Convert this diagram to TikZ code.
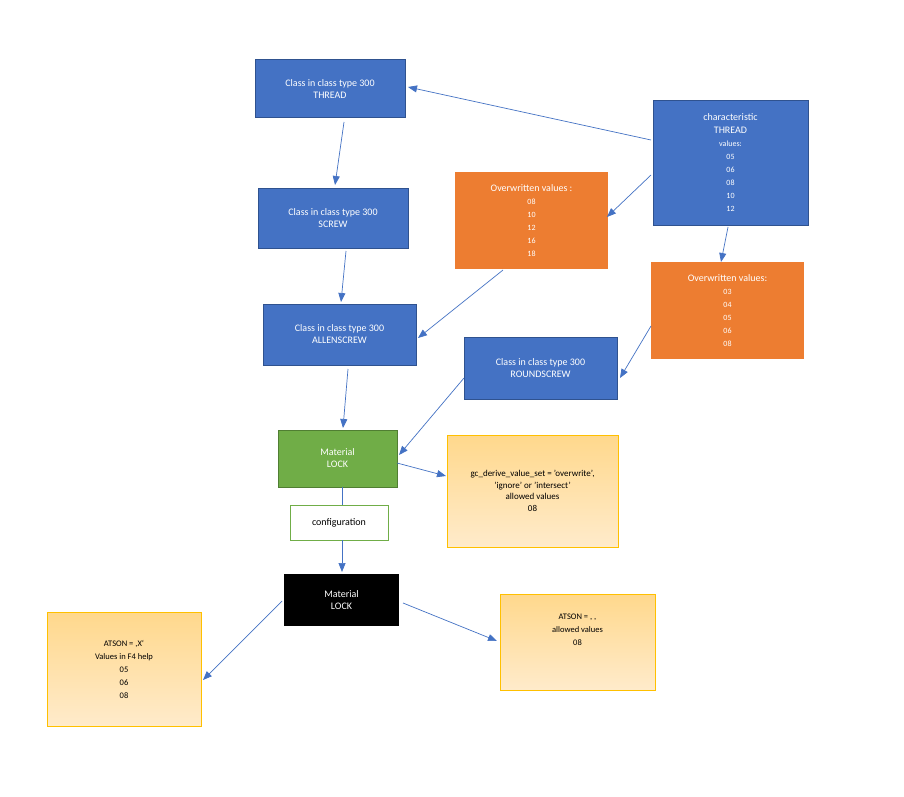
\documentclass[tikz,border=0pt]{standalone}
\usepackage{fontspec}
\setmainfont{Carlito}
\usetikzlibrary{arrows.meta}
\definecolor{bl}{HTML}{4472C4}
\definecolor{bld}{HTML}{2F528F}
\definecolor{orn}{HTML}{ED7D31}
\definecolor{grn}{HTML}{70AD47}
\definecolor{grnd}{HTML}{507E32}
\definecolor{ltop}{HTML}{FFD88C}
\definecolor{lbot}{HTML}{FFEBCB}
\definecolor{gold}{HTML}{FFC000}
\newcommand{\smf}{\fontsize{8}{13}\selectfont}
\begin{document}
\begin{tikzpicture}[x=1pt,y=-1pt,
 box/.style={draw, align=center, inner sep=1pt, text=white, font=\fontsize{10}{12}\selectfont},
 blue/.style={box, fill=bl, draw=bld, line width=1pt},
 org/.style={box, fill=orn, draw=none, font=\smf},
 lt/.style={box, text=black, top color=ltop, bottom color=lbot, draw=gold, line width=0.6pt},
 arr/.style={draw=bl, line width=0.7pt, -{Triangle[length=9pt,width=7pt]}}]
\useasboundingbox (0,0) rectangle (904,797);
\fill[white] (0,0) rectangle (904,797);
\node[blue, minimum width=150, minimum height=58] (t1) at (330,89) {Class in class type 300\\THREAD};
\node[blue, minimum width=155, minimum height=124, font=\smf] (ch) at (730.5,163) {\fontsize{10}{12}\selectfont characteristic\\\fontsize{10}{12}\selectfont THREAD\\values:\\05\\06\\08\\10\\12};
\node[blue, minimum width=150, minimum height=60] (t2) at (333,218) {Class in class type 300\\SCREW};
\node[org, minimum width=153, minimum height=97] (o1) at (531.5,220.5) {\fontsize{10}{12}\selectfont Overwritten values :\\08\\10\\12\\16\\18};
\node[blue, minimum width=153, minimum height=61] (t3) at (339.5,334.5) {Class in class type 300\\ALLENSCREW};
\node[org, minimum width=153, minimum height=97] (o2) at (727.5,310.5) {\fontsize{10}{12}\selectfont Overwritten values:\\03\\04\\05\\06\\08};
\node[blue, minimum width=153, minimum height=62] (rs) at (540.5,368) {Class in class type 300\\ROUNDSCREW};
\node[box, fill=grn, draw=grnd, line width=1pt, minimum width=119, minimum height=57] (m1) at (337.5,458.5) {Material\\LOCK};
\node[lt, minimum width=171, minimum height=112, font=\fontsize{9}{11.5}\selectfont] (gc) at (532.5,491) {gc\_derive\_value\_set = 'overwrite',\\'ignore' or 'intersect'\\allowed values\\08};
\node[box, fill=white, text=black, draw=grn, line width=1pt, minimum width=98, minimum height=35] (cf) at (339,522.5) {configuration};
\node[box, fill=black, draw=none, minimum width=115, minimum height=52] (m2) at (341.5,600) {Material\\LOCK};
\node[lt, minimum width=154, minimum height=114, font=\fontsize{8.5}{13}\selectfont] (a1) at (124,669) {ATSON = ,X‘\\Values in F4 help\\05\\06\\08};
\node[lt, minimum width=155, minimum height=96, font=\fontsize{8.5}{13}\selectfont] (a2) at (577.5,642) {ATSON = , ,\\allowed values\\08\\[12pt]};
\coordinate (c1) at (651,140);
\draw[arr] (c1) -- (408,87);
\draw[arr] (344,122) -- (335,185);
\draw[arr] (651,175) -- (607,217);
\draw[arr] (728,227) -- (721,262);
\draw[arr] (346,251) -- (341,302);
\draw[arr] (503,270) -- (418,338);
\draw[arr] (651,326) -- (620,378);
\draw[arr] (348,369) -- (343,428);
\draw[arr] (464,378) -- (399,455);
\draw[arr] (397,463) -- (446,476);
\draw[draw=bl, line width=0.7pt] (342,487) -- (342,505);
\draw[arr] (342,540) -- (342,572);
\draw[arr] (282,601) -- (203,680);
\draw[arr] (403,603) -- (497,641);
\end{tikzpicture}
\end{document}
